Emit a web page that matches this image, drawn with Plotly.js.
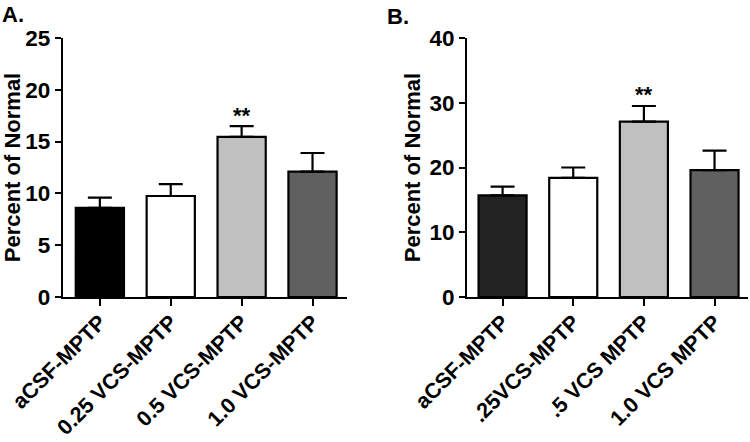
<!DOCTYPE html>
<html><head><meta charset="utf-8">
<script src="https://cdn.plot.ly/plotly-3.0.1.min.js"></script>
<style>html,body{margin:0;padding:0;background:#fff}#chart{width:750px;height:442px}</style>
</head><body><div id="chart"></div>
<script>
// Panel A data
const catsA = ["aCSF-MPTP", "0.25 VCS-MPTP", "0.5 VCS-MPTP", "1.0 VCS-MPTP"];
const valsA = [8.6, 9.75, 15.45, 12.1];
const errA = [1.0, 1.15, 1.05, 1.8];
const colorsA = ["#000000", "#ffffff", "#c0c0c0", "#606060"];
const starA = {cat: "0.5 VCS-MPTP", y: 17.5, text: "**"};

// Panel B data
const catsB = ["aCSF-MPTP", ".25VCS-MPTP", ".5 VCS MPTP", "1.0 VCS MPTP"];
const valsB = [15.7, 18.4, 27.1, 19.6];
const errB = [1.35, 1.6, 2.4, 3.0];
const colorsB = ["#222222", "#ffffff", "#c0c0c0", "#606060"];
const starB = {cat: ".5 VCS MPTP", y: 31.3, text: "**"};

const FONT = "Liberation Sans, Arial, Helvetica, sans-serif";

function barTrace(cats, vals, errs, colors, xa, ya) {
  return {
    type: "bar", x: cats, y: vals, xaxis: xa, yaxis: ya, width: 0.68,
    marker: {color: colors, line: {color: "#000", width: 2.2}},
    error_y: {type: "data", array: errs, arrayminus: errs.map(() => 0), symmetric: false,
              color: "#000", thickness: 2.2, width: 12},
    hoverinfo: "skip", showlegend: false
  };
}

const xCommon = {
  type: "category", showline: true, linecolor: "#000", linewidth: 2.2,
  ticks: "outside", ticklen: 7, tickwidth: 2, tickcolor: "#000",
  tickangle: -45, showgrid: false, zeroline: false, automargin: false,
  ticklabelstandoff: -5,
  tickfont: {family: FONT, size: 21.5, color: "#000", weight: 700}
};
const yCommon = {
  showline: true, linecolor: "#000", linewidth: 2.2,
  ticks: "outside", ticklen: 6, tickwidth: 2, tickcolor: "#000",
  showgrid: false, zeroline: false, automargin: false,
  tickfont: {family: FONT, size: 22.5, color: "#000", weight: 700},
  domain: [0.328, 0.914]
};

const data = [
  barTrace(catsA, valsA, errA, colorsA, "x", "y"),
  barTrace(catsB, valsB, errB, colorsB, "x2", "y2")
];

const titleFont = {family: FONT, size: 22, color: "#000", weight: 700};

const layout = {
  width: 750, height: 442,
  margin: {l: 0, r: 0, t: 0, b: 0},
  paper_bgcolor: "#fff", plot_bgcolor: "#fff",
  xaxis: Object.assign({}, xCommon, {domain: [0.084, 0.463], anchor: "y", range: [-0.52, 3.49]}),
  yaxis: Object.assign({}, yCommon, {anchor: "x", range: [0, 25], dtick: 5, tick0: 0,
    title: {text: "Percent of Normal", standoff: 3, font: titleFont}}),
  xaxis2: Object.assign({}, xCommon, {domain: [0.623, 0.997], anchor: "y2", range: [-0.5, 3.47]}),
  yaxis2: Object.assign({}, yCommon, {anchor: "x2", range: [0, 40], dtick: 10, tick0: 0,
    title: {text: "Percent of Normal", standoff: 3, font: titleFont}}),
  annotations: [
    {text: "A.", xref: "paper", yref: "paper", x: 0.0, y: 1.0, xanchor: "left", yanchor: "top",
     showarrow: false, font: {family: FONT, size: 22, color: "#000", weight: 700}},
    {text: "B.", xref: "paper", yref: "paper", x: 0.513, y: 0.995, xanchor: "left", yanchor: "top",
     showarrow: false, font: {family: FONT, size: 22, color: "#000", weight: 700}},
    {text: starA.text, xref: "x", yref: "y", x: starA.cat, y: starA.y, showarrow: false,
     font: {family: FONT, size: 22, color: "#000", weight: 700}},
    {text: starB.text, xref: "x2", yref: "y2", x: starB.cat, y: starB.y, showarrow: false,
     font: {family: FONT, size: 22, color: "#000", weight: 700}}
  ]
};

Plotly.newPlot("chart", data, layout, {staticPlot: true, displayModeBar: false});
</script>
</body></html>
